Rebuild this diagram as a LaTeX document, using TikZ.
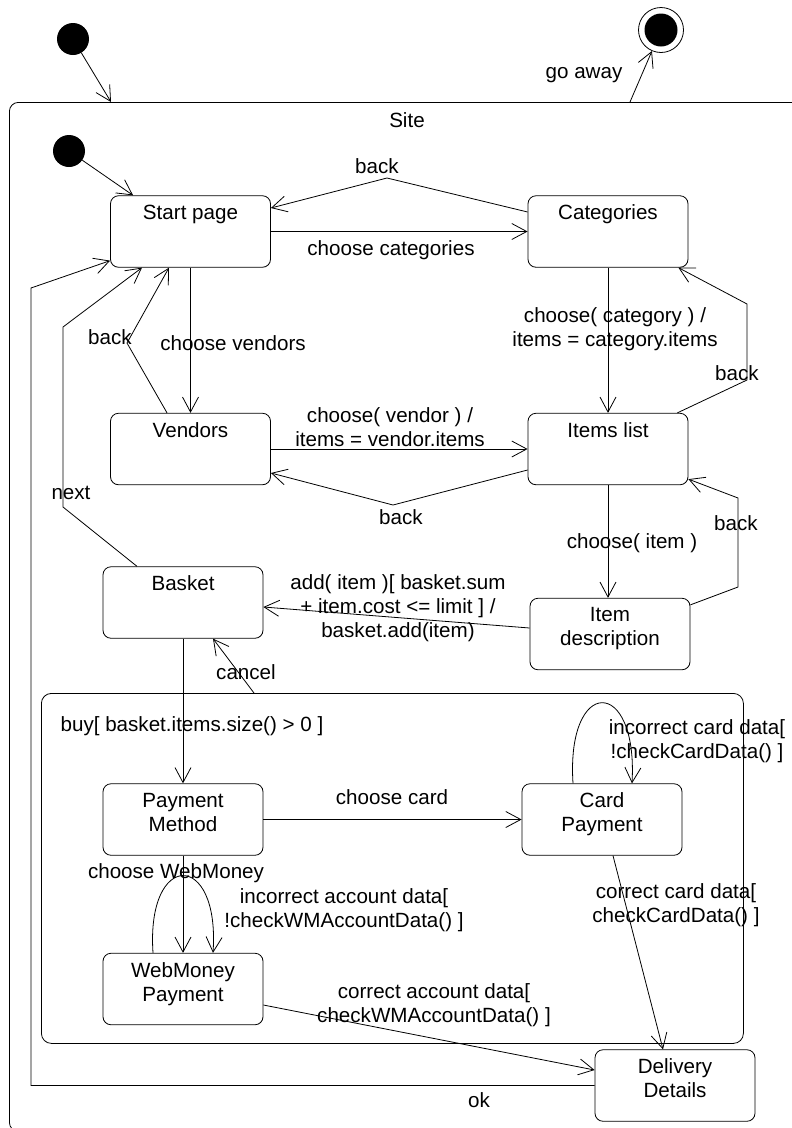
\documentclass[tikz,border=0pt]{standalone}
\usepackage{fontspec}
\setmainfont{Liberation Sans}
\usetikzlibrary{arrows.meta,calc}
\tikzset{
  every node/.style={font=\fontsize{20.6}{24}\selectfont},
  lbl/.style={inner sep=0pt,align=center},
  state/.style={draw,rounded corners=8pt,minimum width=160pt,minimum height=71.5pt,inner sep=0pt,line width=0.8pt},
  stext/.style={label={[lbl,anchor=north,yshift=-9.5pt]north:{#1}}},
  arr/.style={-{Straight Barb[length=15pt,width=16pt]},line width=0.8pt},
  ln/.style={line width=0.8pt},
  initstate/.style={circle,fill=black,minimum size=32pt,inner sep=0pt},
}
\begin{document}
\begin{tikzpicture}[x=1pt,y=-1pt]
\useasboundingbox (0,0) rectangle (792,1128);
\clip (0,0) rectangle (792,1128);
% containers
\node[draw,ln,rounded corners=9pt,minimum width=821pt,minimum height=1029pt,anchor=north west,inner sep=0pt] (site) at (9,102) {};
\node[draw,ln,rounded corners=10pt,minimum width=702pt,minimum height=350pt,anchor=north west,inner sep=0pt] (pay) at (41,693) {};
\node[lbl] (lsite) at (407,120) {Site};
% pseudo states
\node[initstate] (i1) at (73,39) {};
\node[circle,draw,ln,minimum size=45pt,inner sep=0pt] (fin) at (661,30) {};
\node[initstate,minimum size=33pt] (finin) at (661,30) {};
\node[initstate] (i2) at (69,151) {};
% states
\node[state,stext={Start page}] (sp) at (190.5,231.5) {};
\node[state,stext={Categories}] (cat) at (608,231.5) {};
\node[state,stext={Vendors}] (ven) at (190.5,449) {};
\node[state,stext={Items list}] (il) at (608,449) {};
\node[state,stext={Item\\description}] (idesc) at (610,634) {};
\node[state,stext={Basket}] (bask) at (183,602.5) {};
\node[state,stext={Payment\\Method}] (pm) at (183,819.5) {};
\node[state,stext={Card\\Payment}] (cp) at (602,819.5) {};
\node[state,stext={WebMoney\\Payment}] (wm) at (183,989) {};
\node[state,stext={Delivery\\Details}] (dd) at (675,1085.5) {};
% outer transitions
\coordinate (siteIn) at (111,102);
\coordinate (siteOut) at (630,102);
\draw[arr] (i1) -- (siteIn);
\draw[arr] (siteOut) -- (fin);
\node[lbl] (lgo) at (584,75) {go away};
\draw[arr] (i2) -- ([xshift=23pt]sp.north west);
% start page <-> vendors
\draw[arr] (sp) -- (ven);
\node[lbl] (l1) at (233,343) {choose vendors};
\coordinate (b1) at (127,343);
\draw[arr] ([xshift=-23.5pt]ven.north) -- (b1) -- ([xshift=-21.5pt]sp.south);
\node[lbl] (l2) at (110,337) {back};
% start page <-> categories
\draw[arr] (sp) -- (cat);
\node[lbl] (l3) at (391,250) {choose categories};
\coordinate (b2) at (387,178);
\draw[arr] ([yshift=19.5pt]cat.west) -- (b2) -- ([yshift=23.5pt]sp.east);
\node[lbl] (l4) at (377,166) {back};
% categories <-> items list
\draw[arr] (cat) -- (il);
\node[lbl] (l5) at (615,329) {choose( category ) /\\items = category.items};
\coordinate (b3) at (747,380);
\coordinate (b4) at (747,304);
\draw[arr] ([xshift=-11pt]il.north east) -- (b3) -- (b4) -- ([xshift=-10pt]cat.south east);
\node[lbl] (l6) at (737,373) {back};
% vendors <-> items list
\draw[arr] (ven) -- (il);
\node[lbl] (l7) at (390,427) {choose( vendor ) /\\items = vendor.items};
\coordinate (b5) at (393,505);
\draw[arr] ([yshift=-21pt]il.west) -- (b5) -- ([yshift=-24pt]ven.east);
\node[lbl] (l8) at (401,517) {back};
% items list <-> item description
\draw[arr] (il.south) -- (il.south |- idesc.north);
\node[lbl] (l9) at (632,543) {choose( item )};
\coordinate (b6) at (738,587);
\coordinate (b7) at (738,498);
\draw[arr] ([yshift=-7pt]idesc.north east) -- (b6) -- (b7) -- ([yshift=6pt]il.south east);
\node[lbl] (l10) at (736,523) {back};
% item description -> basket
\draw[arr] ([yshift=6pt]idesc.west) -- ([yshift=-4.5pt]bask.east);
\node[lbl] (l11) at (398,608) {add( item )[ basket.sum\\+ item.cost <= limit ] /\\basket.add(item)};
% payment composite
\draw[arr] ([xshift=213pt]pay.north west) -- ([xshift=30pt]bask.south);
\node[lbl] (l12) at (246,672) {cancel};
\draw[arr] (bask) -- (pm);
\node[lbl] (l13) at (192,726) {buy[ basket.items.size() > 0 ]};
\draw[arr] (pm) -- (cp);
\node[lbl] (l14) at (392,797) {choose card};
\draw[arr] ([xshift=-29pt]cp.north) .. controls (566,676) and (638,676) .. ([xshift=30pt]cp.north);
\node[lbl] (l15) at (697,741) {incorrect card data[\\!checkCardData() ]};
\draw[arr] (pm) -- (wm);
\node[lbl] (l16) at (176,873) {choose WebMoney};
\draw[arr] ([xshift=-30pt]wm.north) .. controls (146,850) and (220,850) .. ([xshift=30pt]wm.north);
\node[lbl] (l17) at (344,910) {incorrect account data[\\!checkWMAccountData() ]};
\draw[arr] ([xshift=11pt]cp.south) -- ([xshift=-12pt]dd.north);
\node[lbl] (l18) at (676,905) {correct card data[\\checkCardData() ]};
\draw[arr] ([yshift=-16pt]wm.east) -- ([yshift=15.5pt]dd.west);
\node[lbl] (l19) at (434,1005) {correct account data[\\checkWMAccountData() ]};
% ok and next
\coordinate (o1) at (31,1085.5);
\coordinate (o2) at (31,288);
\draw[arr] (dd.west) -- (o1) -- (o2) -- ([yshift=7pt]sp.south west);
\node[lbl] (l20) at (479,1100) {ok};
\coordinate (n1) at (63,507);
\coordinate (n2) at (63,327);
\draw[arr] ([xshift=-46pt]bask.north) -- (n1) -- (n2) -- ([xshift=-48.5pt]sp.south);
\node[lbl] (l21) at (71,493) {next};
\end{tikzpicture}
\end{document}
